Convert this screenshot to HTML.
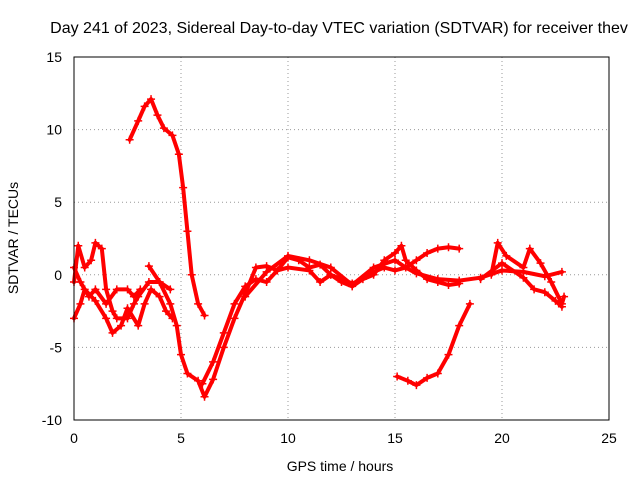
<!DOCTYPE html>
<html><head><meta charset="utf-8"><style>
body{margin:0;background:#fff;font-family:"Liberation Sans",sans-serif}
svg{display:block}
</style></head><body>
<svg id="chart" width="640" height="480" xmlns="http://www.w3.org/2000/svg" font-family="Liberation Sans, sans-serif" font-size="14">
<text x="339" y="33" text-anchor="middle" font-size="16" fill="#000">Day 241 of 2023, Sidereal Day-to-day VTEC variation (SDTVAR) for receiver thev</text>
<text x="340" y="471" text-anchor="middle">GPS time / hours</text>
<text transform="translate(18,238) rotate(-90)" text-anchor="middle">SDTVAR / TECUs</text>
<g id="grid"></g><g id="ticks"></g><g id="series"></g>
<rect x="74" y="57" width="535" height="363" fill="none" stroke="#000" stroke-width="1"/>
</svg>
<script>
const xTicks=[0,5,10,15,20,25];
const yTicks=[-10,-5,0,5,10,15];
const trackA=[[2.6,9.3],[3.0,10.6],[3.3,11.6],[3.6,12.1],[3.9,11.0],[4.2,10.1],[4.6,9.6],[4.9,8.3],[5.1,6],[5.3,3],[5.5,0],[5.8,-2],[6.1,-2.8]];
const trackB=[[3.5,0.6],[4,-0.5],[4.5,-2],[4.8,-3.5],[5,-5.5],[5.3,-6.8],[5.8,-7.3],[6.1,-8.4],[6.5,-7.2],[7,-5],[7.5,-3],[8,-1.3],[8.5,0.5],[9,0.6],[9.5,0.3],[10,1.2],[10.5,1],[11,0.5],[11.5,0.7],[12,0],[12.5,-0.5],[13,-0.8],[13.5,-0.3],[14,0.2],[14.5,0.5],[15,0.3],[15.5,0.5],[16,0.1],[17,-0.3],[18,-0.4],[19,-0.2],[20,0.3],[21,0.2],[22,-0.1],[22.8,0.2]];
const trackC=[[6,-7.5],[6.5,-6],[7,-4],[7.5,-2],[8,-0.8],[8.5,-0.3],[9,-0.5],[9.5,0.3],[10,0.5],[11,0.3],[11.5,-0.5],[12,0],[13,-0.6],[14,0],[14.5,1],[15,1.5],[15.3,2],[15.5,1],[16,0.3],[16.5,-0.3],[17,-0.5],[17.5,-0.7],[18,-0.6]];
const trackD=[[8,-1.5],[9,0.2],[10,1.3],[11,1],[12,0.5],[13,-0.7],[14,0.5],[15,1],[15.5,0.5],[16,1],[16.5,1.5],[17,1.8],[17.5,1.9],[18,1.8]];
const trackE=[[19.5,0],[19.8,2.2],[20.2,1.3],[21,0.5],[21.3,1.8],[21.8,0.8],[22.3,-0.5],[22.8,-2],[22.9,-1.5]];
const trackF=[[19,-0.3],[20,0.8],[21,-0.2],[21.5,-1],[22,-1.2],[22.5,-1.8],[22.8,-2.2]];
const trackG=[[15.1,-7],[15.6,-7.3],[16,-7.6],[16.5,-7.1],[17,-6.8],[17.5,-5.5],[18,-3.5],[18.5,-2]];
const trackH=[[0,-0.5],[0.2,2],[0.5,0.5],[0.8,1],[1,2.2],[1.3,1.8],[1.5,-1],[1.8,-2.5],[2,-3],[2.5,-3],[2.8,-2],[3,-1.5],[3.5,-0.5],[4,-0.5],[4.5,-1]];
const trackI=[[0,-3],[0.3,-2],[0.5,-1],[1,-1.8],[1.5,-3],[1.8,-4],[2.2,-3.5],[2.5,-2.3],[3,-3.5],[3.3,-2],[3.6,-1],[4,-1.5],[4.3,-2.5],[4.6,-3]];
const trackJ=[[0,0.5],[0.3,-0.5],[0.7,-1.5],[1,-1],[1.5,-2],[2,-1],[2.5,-1],[2.8,-1.5],[3.1,-1.0]];
const tracks=[trackA,trackB,trackC,trackD,trackE,trackF,trackG,trackH,trackI,trackJ];
const X=v=>74+v*535/25, Y=v=>420-(v+10)*363/25;
const NS="http://www.w3.org/2000/svg";
const g=document.getElementById('grid'),tk=document.getElementById('ticks'),s=document.getElementById('series');
function mk(t,a,p){const e=document.createElementNS(NS,t);for(const k in a)e.setAttribute(k,a[k]);p.appendChild(e);return e;}
xTicks.forEach(v=>{
 if(v>0&&v<25){const l=mk('line',{x1:X(v),x2:X(v),y1:57,y2:420,stroke:'#999','stroke-dasharray':'1,3'},g);
 
 }
 const t=mk('text',{x:X(v),y:443,'text-anchor':'middle'},tk);t.textContent=v;
 
 
});
yTicks.forEach(v=>{
 if(v>-10&&v<15){const l=mk('line',{x1:74,x2:609,y1:Y(v),y2:Y(v),stroke:'#999','stroke-dasharray':'1,3'},g);
 
 }
 const t=mk('text',{x:62,y:Y(v)+5,'text-anchor':'end'},tk);t.textContent=v;
 
 
});
tracks.forEach((tr,i)=>{
 const p=mk('polyline',{points:tr.map(d=>X(d[0])+','+Y(d[1])).join(' '),fill:'none',stroke:'#f00','stroke-width':4,'stroke-linejoin':'round','stroke-linecap':'round'},s);
 
 
 tr.forEach(d=>{const m=mk('path',{d:`M${X(d[0])-4},${Y(d[1])}h8M${X(d[0])},${Y(d[1])-4}v8`,stroke:'#f00','stroke-width':1.5},s);
 
 });
});
</script>
</body></html>
